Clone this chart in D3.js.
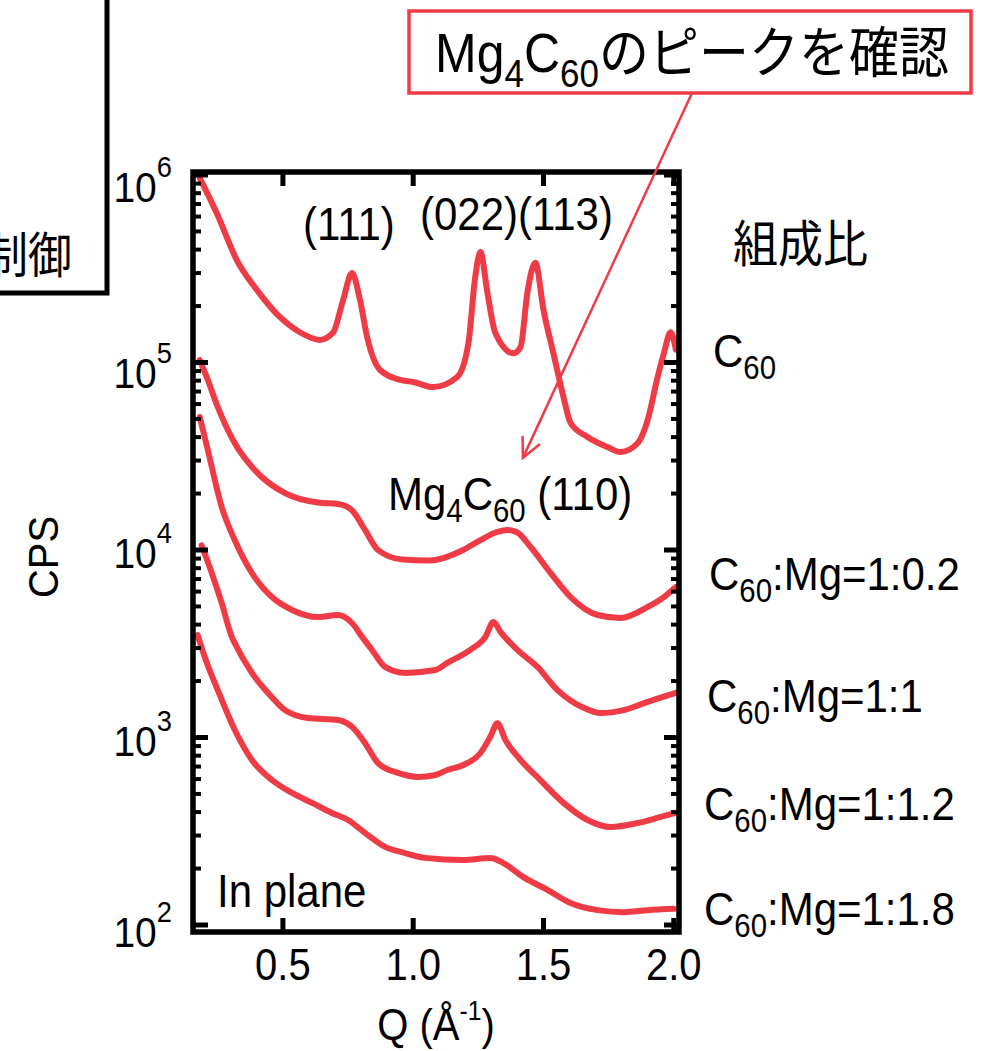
<!DOCTYPE html>
<html>
<head>
<meta charset="utf-8">
<script src="https://cdn.jsdelivr.net/npm/d3@7"></script>
<style>
  html, body { margin: 0; padding: 0; background: #fff; }
  svg { display: block; }
</style>
</head>
<body>
<div id="chart"></div>
<script>
// ---- data: in-plane XRD profiles of C60 / Mg-doped C60 films ----
const seriesNames = ["C60", "C60:Mg=1:0.2", "C60:Mg=1:1", "C60:Mg=1:1.2", "C60:Mg=1:1.8"];

const qC60 = [0.181,0.246,0.323,0.400,0.488,0.565,0.642,0.692,0.731,0.765,0.796,0.823,0.873,0.950,1.000,1.077,1.169,1.212,1.238,1.258,1.285,1.315,1.385,1.412,1.438,1.469,1.500,1.538,1.573,1.604,1.669,1.746,1.796,1.862,1.900,1.938,1.962,1.988,2.008];
const cpsC60 = [964000,627000,352000,244000,175000,145000,132000,144000,215000,300000,215000,137000,91200,80700,78700,74000,83700,127000,286000,388000,235000,144000,112000,121000,235000,340000,191000,112000,68800,47600,40100,35400,33300,37200,49400,83700,112000,145000,117000];

const qMg02 = [0.181,0.212,0.250,0.315,0.392,0.508,0.635,0.712,0.765,0.815,0.865,0.958,1.065,1.192,1.258,1.323,1.362,1.400,1.450,1.527,1.604,1.708,1.796,1.900,1.962,2.008];
const cpsMg02 = [103000,80700,57900,37200,26700,20100,17900,17600,16300,12800,10000,8900,8800,10000,11300,12500,12800,12400,10400,7540,5610,4500,4340,4970,5610,6350];

const qMg10 = [0.181,0.212,0.265,0.315,0.381,0.458,0.535,0.635,0.712,0.765,0.804,0.842,0.892,0.969,1.085,1.131,1.219,1.277,1.308,1.335,1.400,1.477,1.554,1.654,1.719,1.808,1.900,2.008];
const cpsMg10 = [51200,34100,17000,11300,7540,5610,4790,4390,4500,4080,3440,2930,2380,2210,2290,2500,2930,3440,4130,3660,2930,2380,1790,1440,1350,1400,1550,1730];

const qMg12 = [0.188,0.227,0.265,0.304,0.315,0.381,0.458,0.508,0.596,0.712,0.765,0.815,0.865,0.942,1.019,1.085,1.131,1.192,1.258,1.296,1.323,1.354,1.412,1.488,1.577,1.669,1.758,1.862,1.950,2.008];
const cpsMg12 = [10600,7540,5220,3440,3190,2210,1640,1400,1270,1240,1140,935,731,647,616,631,671,713,827,1010,1190,970,759,593,448,363,333,350,377,396];

const qMg18 = [0.173,0.200,0.250,0.315,0.381,0.458,0.535,0.612,0.688,0.750,0.815,0.892,0.969,1.046,1.192,1.296,1.346,1.423,1.515,1.604,1.708,1.808,1.900,2.000];
const cpsMg18 = [3520,2690,1790,1100,759,593,506,448,396,363,310,261,242,228,222,228,214,180,154,131,120,117,120,122];

const qTicks = [0.5, 1.0, 1.5, 2.0];
const qTickLabels = ["0.5", "1.0", "1.5", "2.0"];
const decadeExps = [2, 3, 4, 5, 6];

// Mg4C60 (110) pointer tip, in data units
const arrowTip = [1.421, 31000];

// ---- layout ----
const W = 983, H = 1051;
const FONT = "'Liberation Sans', Arial, 'Noto Sans CJK JP', sans-serif";
const RED = "#ef3b45";
const SY = 1.1; // glyphs are drawn slightly tall

const svg = d3.select("#chart").append("svg")
  .attr("width", W).attr("height", H)
  .attr("viewBox", `0 0 ${W} ${H}`);
svg.append("rect").attr("width", W).attr("height", H).attr("fill", "#fff");

const x = d3.scaleLinear().domain([0.155, 2.02]).range([193, 679]);
const y = d3.scaleLog().domain([Math.pow(10, 2 - 7 / 187.5), Math.pow(10, 6 + 3 / 187.5)]).range([932, 172]);
// baseline positions of decade labels
const yLab = d3.scaleLinear().domain([2, 3, 4, 5, 6]).range([947, 756, 568, 388, 202]);

// text with sub/superscripts
function richText(parent, px, py, parts, size, anchor) {
  const g = parent.append("g").attr("transform", `translate(${px},${py}) scale(1,${SY})`);
  const t = g.append("text")
    .attr("font-family", FONT)
    .attr("font-size", size)
    .attr("text-anchor", anchor || "start")
    .attr("fill", "#000");
  let shift = 0;
  parts.forEach(p => {
    const str = typeof p === "string" ? p : p[0];
    const kind = typeof p === "string" ? "n" : p[1];
    const target = kind === "sub" ? size * 0.27 : kind === "sup" ? -size * 0.58 : (kind === "supx" ? -size * 0.45 : 0);
    t.append("tspan")
      .attr("dy", target - shift)
      .attr("font-size", kind === "n" ? size : (kind === "supx" ? size * 0.62 : size * 0.7))
      .text(str);
    shift = target;
  });
  return t;
}

// ---- side panel fragment at top-left ----
svg.append("path")
  .attr("d", "M107,0 L107,293 L0,293")
  .attr("fill", "none").attr("stroke", "#000").attr("stroke-width", 5);
richText(svg, 72, 273, ["制御"], 44, "end");

// ---- curves ----
const line = d3.line()
  .x(d => x(d[0]))
  .y(d => y(d[1]))
  .curve(d3.curveMonotoneX);

const seriesData = [
  d3.zip(qC60, cpsC60),
  d3.zip(qMg02, cpsMg02),
  d3.zip(qMg10, cpsMg10),
  d3.zip(qMg12, cpsMg12),
  d3.zip(qMg18, cpsMg18)
];

svg.append("g").selectAll("path")
  .data(seriesData)
  .join("path")
  .attr("d", line)
  .attr("fill", "none")
  .attr("stroke", RED)
  .attr("stroke-width", 6)
  .attr("stroke-linejoin", "round")
  .attr("stroke-linecap", "round");

// ---- frame and ticks ----
const [x0, x1] = x.range();
const [yB, yT] = y.range();
const axes = svg.append("g").attr("stroke", "#000");

const minorVals = [];
decadeExps.slice(0, -1).forEach(e => {
  for (let k = 2; k <= 9; k++) minorVals.push(k * Math.pow(10, e));
});
const majorVals = decadeExps.map(e => Math.pow(10, e));

[[x0, 1], [x1, -1]].forEach(([xe, dir]) => {
  axes.selectAll(null).data(majorVals).join("line")
    .attr("x1", xe).attr("x2", xe + dir * 15)
    .attr("y1", d => y(d)).attr("y2", d => y(d))
    .attr("stroke-width", 5);
  axes.selectAll(null).data(minorVals).join("line")
    .attr("x1", xe).attr("x2", xe + dir * 8)
    .attr("y1", d => y(d)).attr("y2", d => y(d))
    .attr("stroke-width", 4);
});
[[yT, 1], [yB, -1]].forEach(([ye, dir]) => {
  axes.selectAll(null).data(qTicks).join("line")
    .attr("x1", d => x(d)).attr("x2", d => x(d))
    .attr("y1", ye).attr("y2", ye + dir * 14)
    .attr("stroke-width", 5);
});
axes.append("rect")
  .attr("x", x0).attr("y", yT)
  .attr("width", x1 - x0).attr("height", yB - yT)
  .attr("fill", "none").attr("stroke-width", 5.5);

// ---- tick labels ----
qTicks.forEach((q, i) => richText(svg, x(q), 980, [qTickLabels[i]], 40, "middle"));
decadeExps.forEach(e => richText(svg, 172, yLab(e), ["10", [String(e), "sup"]], 39, "end"));

// ---- axis titles ----
richText(svg, 436, 1040, ["Q (Å", ["-1", "supx"], ")"], 40, "middle");
svg.append("g").attr("transform", "translate(58,557) rotate(-90) scale(1,1.05)")
  .append("text")
  .attr("font-family", FONT).attr("font-size", 40)
  .attr("text-anchor", "middle").text("CPS");

// ---- in-plot annotations ----
richText(svg, 217, 907, ["In plane"], 42);
richText(svg, 303, 240, ["(111)"], 42);
richText(svg, 420, 230, ["(022)(113)"], 42);
richText(svg, 388, 510, ["Mg", ["4", "sub"], "C", ["60", "sub"], " (110)"], 42);

// ---- series labels on the right ----
richText(svg, 733, 262, ["組成比"], 45);
const rightLabels = [
  { y: 367, x: 713, parts: ["C", ["60", "sub"]] },
  { y: 590, x: 709, parts: ["C", ["60", "sub"], ":Mg=1:0.2"] },
  { y: 712, x: 707, parts: ["C", ["60", "sub"], ":Mg=1:1"] },
  { y: 820, x: 704, parts: ["C", ["60", "sub"], ":Mg=1:1.2"] },
  { y: 925, x: 704, parts: ["C", ["60", "sub"], ":Mg=1:1.8"] }
];
rightLabels.forEach(l => richText(svg, l.x, l.y, l.parts, 42));

// ---- callout box with pointer ----
svg.append("rect")
  .attr("x", 409).attr("y", 11).attr("width", 562).attr("height", 82)
  .attr("fill", "#fff").attr("stroke", RED).attr("stroke-width", 3.5);
richText(svg, 435, 72, ["Mg", ["4", "sub"], "C", ["60", "sub"], "のピークを確認"], 50);

const tip = [x(arrowTip[0]), y(arrowTip[1])];
const start = [692, 93];
svg.append("line")
  .attr("x1", start[0]).attr("y1", start[1])
  .attr("x2", tip[0]).attr("y2", tip[1])
  .attr("stroke", RED).attr("stroke-width", 2.5);
const ang = Math.atan2(start[1] - tip[1], start[0] - tip[0]);
const head = [ang - 0.45, ang + 0.45].map(a => [tip[0] + 22 * Math.cos(a), tip[1] + 22 * Math.sin(a)]);
svg.append("path")
  .attr("d", `M${head[0][0]},${head[0][1]} L${tip[0]},${tip[1]} L${head[1][0]},${head[1][1]}`)
  .attr("fill", "none").attr("stroke", RED).attr("stroke-width", 2.5);
</script>
</body>
</html>
